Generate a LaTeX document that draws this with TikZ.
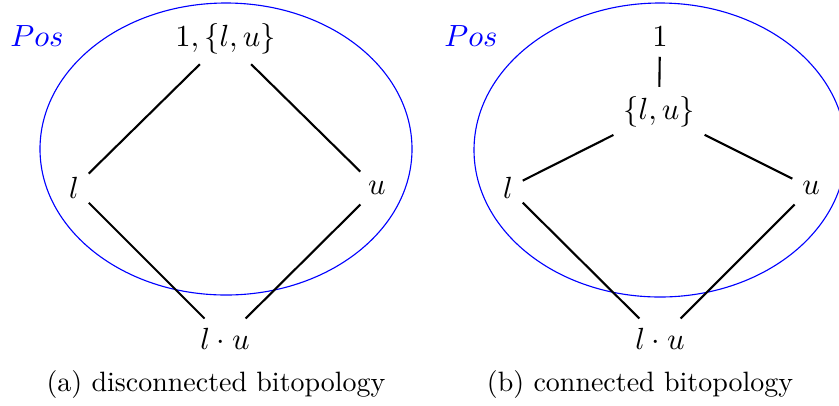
\documentclass[tikz,border=0pt]{standalone}
\begin{document}
\begin{tikzpicture}[x=0.35757pt,y=-0.35757pt,
  el/.style={font=\fontsize{11}{13}\selectfont},
  captext/.style={font=\fontsize{10}{12}\selectfont},
  poslab/.style={font=\fontsize{11}{13}\selectfont, text=blue},
  region/.style={draw=blue, line width=0.4pt},
  edge/.style={draw=black, line width=0.75pt}]
\useasboundingbox (0,0) rectangle (839,405);
\clip (0,0) rectangle (839,405);
% left diagram
\draw[region] (226,149) ellipse [x radius=186, y radius=146];
\node[poslab] (posa) at (37,36) {$Pos$};
\node[el] (ta) at (225.5,39) {$1,\{l,u\}$};
\node[el] (la) at (74,188) {$l$};
\node[el] (ua) at (377,188) {$u$};
\node[el] (ba) at (225,339) {$l\cdot u$};
\draw[edge] (ta) -- (la);
\draw[edge] (ta) -- (ua);
\draw[edge] (la) -- (ba);
\draw[edge] (ua) -- (ba);
\node[captext] (capa) at (216,384) {(a) disconnected bitopology};
% right diagram
\draw[region] (660,150) ellipse [x radius=186, y radius=147];
\node[poslab] (posb) at (471,36) {$Pos$};
\node[el] (ob) at (660,37) {$1$};
\node[el] (tb) at (659,112) {$\{l,u\}$};
\node[el] (lb) at (508,188) {$l$};
\node[el] (ub) at (811,188) {$u$};
\node[el] (bb) at (660,339) {$l\cdot u$};
\draw[edge] (ob) -- (tb);
\draw[edge] (tb) -- (lb);
\draw[edge] (tb) -- (ub);
\draw[edge] (lb) -- (bb);
\draw[edge] (ub) -- (bb);
\node[captext] (capb) at (640,384) {(b) connected bitopology};
\end{tikzpicture}
\end{document}
